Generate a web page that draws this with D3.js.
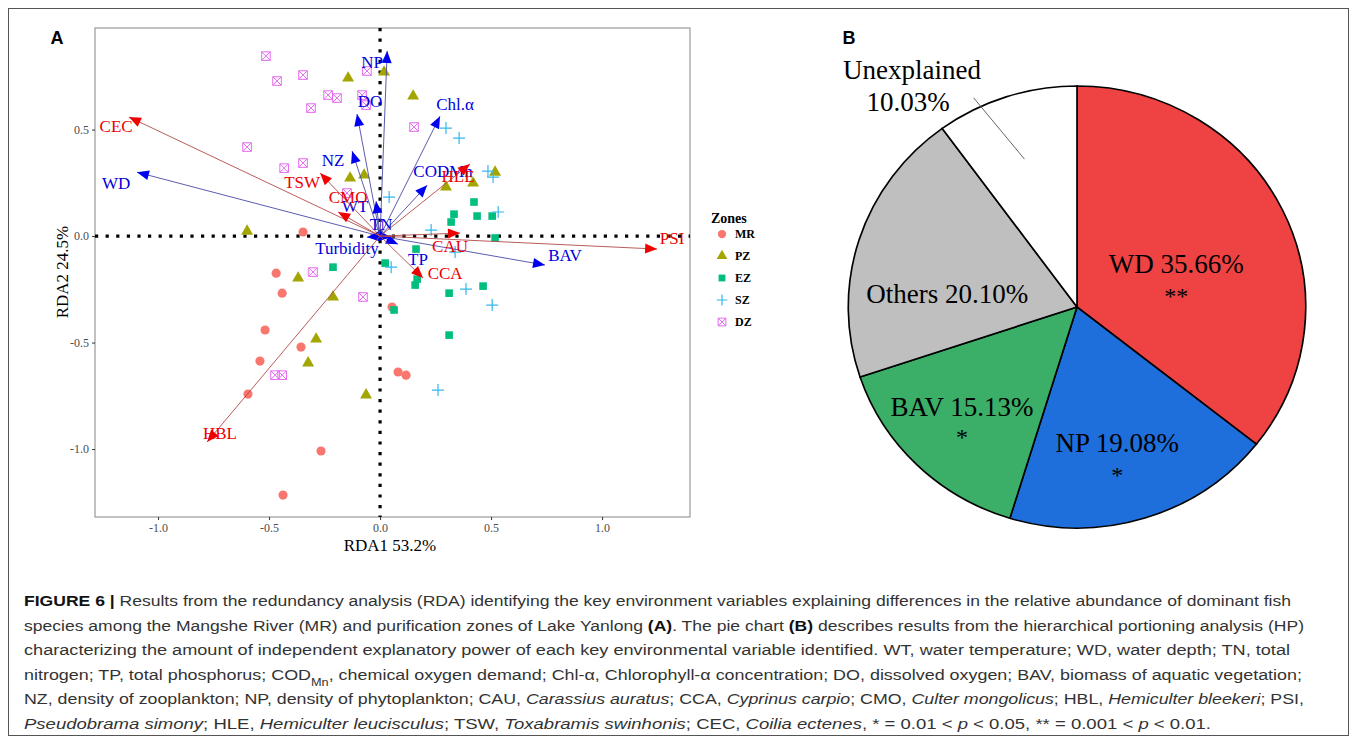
<!DOCTYPE html>
<html>
<head>
<meta charset="utf-8">
<script src="https://cdn.jsdelivr.net/npm/d3@7"></script>
<style>
  body { margin: 0; background: #fff; }
  svg text { font-family: "Liberation Serif", "Times New Roman", serif; }
  .cap text { font-family: "Liberation Sans", Arial, sans-serif; }
</style>
</head>
<body>
<svg id="fig" width="1357" height="744"></svg>
<script>
// ---- data (RDA site scores) ----
var zoneNames = ["MR", "PZ", "EZ", "SZ", "DZ"];
var siteMR = [[-0.347,0.019],[-0.468,-0.174],[-0.441,-0.268],[-0.518,-0.441],[-0.356,-0.521],[-0.541,-0.587],
              [-0.595,-0.742],[-0.266,-1.009],[-0.437,-1.216],[0.054,-0.333],[0.081,-0.638],[0.117,-0.653]];
var sitePZ = [[-0.144,0.742],[0.018,0.770],[0.149,0.657],[-0.135,0.272],[-0.072,0.286],[-0.599,0.023],[0.297,0.230],
              [0.419,0.249],[0.518,0.300],[-0.369,-0.197],[-0.212,-0.286],[-0.288,-0.484],[-0.324,-0.596],[-0.063,-0.746]];
var siteEZ = [[0.423,0.160],[0.333,0.103],[0.320,0.066],[0.437,0.094],[0.505,0.094],[0.518,-0.009],[0.023,-0.127],
              [0.162,-0.061],[0.167,-0.202],[0.158,-0.230],[0.311,-0.268],[0.464,-0.235],[0.063,-0.347],[0.311,-0.465],[-0.212,-0.146]];
var siteSZ = [[0.297,0.507],[0.356,0.460],[0.486,0.305],[0.509,0.277],[0.041,0.183],[0.532,0.113],[0.230,0.028],
              [0.338,-0.075],[0.050,-0.146],[0.387,-0.249],[0.505,-0.324],[0.261,-0.723]];
var siteDZ = [[-0.514,0.845],[-0.464,0.728],[-0.347,0.756],[-0.234,0.662],[-0.194,0.648],[-0.311,0.601],[-0.059,0.775],
              [-0.081,0.662],[-0.063,0.615],[0.153,0.512],[-0.599,0.418],[-0.432,0.319],[-0.347,0.343],[-0.149,0.202],
              [-0.302,-0.169],[-0.077,-0.286],[-0.473,-0.653],[-0.441,-0.653]];

// environmental vectors
var envNames = ["NP","DO","Chl.\u03b1","NZ","WD","WT","TN","Turbidity","TP","BAV","CODMn"];
var envX = [0.032,-0.104,0.270,-0.126,-1.095,-0.018,0.050,-0.059,0.081,0.743,0.212];
var envY = [0.869,0.573,0.563,0.399,0.300,0.164,-0.005,-0.005,-0.038,-0.136,0.239];
var envLabX = [-0.036,-0.045,0.338,-0.212,-1.189,-0.113,0.005,-0.149,0.171,0.833,0.284];
var envLabY = [0.817,0.634,0.620,0.357,0.249,0.141,0.056,-0.056,-0.108,-0.089,0.305];

// species vectors
var spNames = ["CEC","TSW","CMO","HLE","PSI","CAU","CCA","HBL"];
var spX = [-1.131,-0.270,-0.189,0.405,1.248,0.360,0.194,-0.779];
var spY = [0.559,0.296,0.113,0.338,-0.061,0.014,-0.197,-0.967];
var spLabX = [-1.189,-0.351,-0.144,0.351,1.315,0.315,0.293,-0.721];
var spLabY = [0.516,0.254,0.183,0.282,-0.009,-0.047,-0.174,-0.925];

var xTicks = [-1, -0.5, 0, 0.5, 1];
var yTicks = [-1, -0.5, 0, 0.5];

// hierarchical partitioning
var hpNames = ["WD","NP","BAV","Others","Unexplained"];
var hpValues = [35.66,19.08,15.13,20.10,10.03];
var hpStars = ["**","*","*","",""];

var svg = d3.select("svg#fig");

svg.append("rect")
  .attr("x", 8.5).attr("y", 8.5)
  .attr("width", 1340).attr("height", 727)
  .attr("fill", "none")
  .attr("stroke", "#555")
  .attr("stroke-width", 1);

svg.append("text").attr("x", 57).attr("y", 44)
  .style("font-family", "'Liberation Sans', Arial, sans-serif")
  .style("font-weight", "bold").style("font-size", "18px")
  .attr("text-anchor", "middle").text("A");
svg.append("text").attr("x", 849).attr("y", 44)
  .style("font-family", "'Liberation Sans', Arial, sans-serif")
  .style("font-weight", "bold").style("font-size", "18px")
  .attr("text-anchor", "middle").text("B");

// ================= panel A : RDA biplot =================
var x = d3.scaleLinear().domain([-1.284, 1.396]).range([95, 690]);
var y = d3.scaleLinear().domain([0.977, -1.319]).range([28, 517]);

var plotA = svg.append("g").attr("class", "rda");

plotA.append("rect")
  .attr("x", 95).attr("y", 28)
  .attr("width", 595).attr("height", 489)
  .attr("fill", "#fff")
  .attr("stroke", "#9a9a9a")
  .attr("stroke-width", 1.2);

var xAxis = d3.axisBottom(x).tickValues(xTicks).tickSize(3).tickPadding(3)
  .tickFormat(function(d){ return d.toFixed(1); });
var yAxis = d3.axisLeft(y).tickValues(yTicks).tickSize(3).tickPadding(3)
  .tickFormat(function(d){ return d.toFixed(1); });

var gx = plotA.append("g").attr("transform", "translate(0,517)").call(xAxis);
var gy = plotA.append("g").attr("transform", "translate(95,0)").call(yAxis);
[gx, gy].forEach(function(g){
  g.select(".domain").remove();
  g.selectAll(".tick line").attr("stroke", "#333");
  g.selectAll(".tick text")
    .style("font-family", "'Liberation Serif', serif")
    .style("font-size", "12px")
    .attr("fill", "#4d4d4d");
});

plotA.append("text")
  .attr("x", 390).attr("y", 551)
  .attr("text-anchor", "middle")
  .style("font-size", "17px")
  .text("RDA1 53.2%");
plotA.append("text")
  .attr("transform", "translate(68,272) rotate(-90)")
  .attr("text-anchor", "middle")
  .style("font-size", "17px")
  .text("RDA2 24.5%");

// zero reference lines (dotted)
plotA.append("line")
  .attr("x1", x.range()[0]).attr("x2", x.range()[1])
  .attr("y1", y(0)).attr("y2", y(0))
  .attr("stroke", "#000").attr("stroke-width", 3.2)
  .attr("stroke-dasharray", "3.2,7.4");
plotA.append("line")
  .attr("x1", x(0)).attr("x2", x(0))
  .attr("y1", y.range()[0]).attr("y2", y.range()[1])
  .attr("stroke", "#000").attr("stroke-width", 3.2)
  .attr("stroke-dasharray", "3.2,7.4");

// site points
var zoneColor = d3.scaleOrdinal().domain(zoneNames)
  .range(["#F8766D", "#A3A500", "#00BF7D", "#33B8EE", "#E76BF3"]);
var zoneData = [siteMR, sitePZ, siteEZ, siteSZ, siteDZ];

function drawShape(sel, zone, k) {
  var c = zoneColor(zone);
  var s = k || 1;
  if (zone === "MR") {
    sel.append("path").attr("d", d3.symbol(d3.symbolCircle, 66 * s * s)).attr("fill", c);
  } else if (zone === "PZ") {
    sel.append("path").attr("d", d3.symbol(d3.symbolTriangle, 62 * s * s)).attr("fill", c);
  } else if (zone === "EZ") {
    sel.append("path").attr("d", d3.symbol(d3.symbolSquare, 58 * s * s)).attr("fill", c);
  } else if (zone === "SZ") {
    var h = 6 * s;
    sel.append("path").attr("d", "M" + (-h) + ",0H" + h + "M0," + (-h) + "V" + h)
      .attr("stroke", c).attr("stroke-width", 1.2).attr("fill", "none");
  } else {
    var q = 4.3 * s;
    sel.append("path")
      .attr("d", "M" + (-q) + "," + (-q) + "H" + q + "V" + q + "H" + (-q) + "Z" +
                 "M" + (-q) + "," + (-q) + "L" + q + "," + q + "M" + q + "," + (-q) + "L" + (-q) + "," + q)
      .attr("stroke", c).attr("stroke-width", 1).attr("fill", "none");
  }
}

var pts = plotA.append("g").attr("class", "sites");
zoneNames.forEach(function(zone, i) {
  pts.selectAll(".pt-" + zone)
    .data(zoneData[i])
  .enter().append("g")
    .attr("class", "pt-" + zone)
    .attr("transform", function(d){ return "translate(" + x(d[0]) + "," + y(d[1]) + ")"; })
    .each(function(){ drawShape(d3.select(this), zone); });
});

// vectors
function arrowHead(x0, y0, x1, y1) {
  var a = Math.atan2(y1 - y0, x1 - x0), L = 12, W = 5;
  var bx = x1 - L * Math.cos(a), by = y1 - L * Math.sin(a);
  return "M" + x1 + "," + y1 +
         "L" + (bx + W * Math.sin(a)) + "," + (by - W * Math.cos(a)) +
         "L" + (bx - W * Math.sin(a)) + "," + (by + W * Math.cos(a)) + "Z";
}

function drawVectors(names, vx, vy, lx, ly, lineCol, headCol, textCol) {
  var g = plotA.append("g");
  var data = names.map(function(n, i){ return {name: n, x: vx[i], y: vy[i], lx: lx[i], ly: ly[i]}; });
  g.selectAll("line").data(data).enter().append("line")
    .attr("x1", x(0)).attr("y1", y(0))
    .attr("x2", function(d){ return x(d.x); })
    .attr("y2", function(d){ return y(d.y); })
    .attr("stroke", lineCol).attr("stroke-width", 0.9);
  g.selectAll("path").data(data).enter().append("path")
    .attr("d", function(d){ return arrowHead(x(0), y(0), x(d.x), y(d.y)); })
    .attr("fill", headCol);
  return {g: g, data: data, textCol: textCol};
}

var envV = drawVectors(envNames, envX, envY, envLabX, envLabY, "#4a4aa6", "#0000f0", "#0000dd");
var spV = drawVectors(spNames, spX, spY, spLabX, spLabY, "#b24a4a", "#f00000", "#ee0000");

[spV, envV].forEach(function(v){
  v.g.selectAll("text").data(v.data).enter().append("text")
    .attr("x", function(d){ return x(d.lx); })
    .attr("y", function(d){ return y(d.ly); })
    .attr("dy", "0.35em")
    .attr("text-anchor", "middle")
    .style("font-size", "17px")
    .attr("fill", v.textCol)
    .text(function(d){ return d.name; });
});

// legend
var leg = svg.append("g").attr("class", "legend");
leg.append("text").attr("x", 711).attr("y", 223)
  .style("font-weight", "bold").style("font-size", "14px").text("Zones");
var legItems = leg.selectAll(".li").data(zoneNames).enter().append("g")
  .attr("class", "li")
  .attr("transform", function(d, i){ return "translate(722," + (234 + i * 22) + ")"; });
legItems.each(function(d){ drawShape(d3.select(this), d, 0.9); });
legItems.append("text").attr("x", 13).attr("dy", "0.35em")
  .style("font-weight", "bold").style("font-size", "12px")
  .text(function(d){ return d; });

// ================= panel B : HP pie =================
var cx = 1077, cy = 307, R = 221, stretchX = 1.035;
var pieCols = ["#EF4242", "#1E6EDB", "#3BAE67", "#BFBFBF", "#FFFFFF"];
var labelPos = [[66.5, 0.49], [163.5, 0.64], [229, 0.69], [275.8, 0.59]]; // [angle deg, radius frac]
var starDy = [28, 28, 26];

var pie = d3.pie().sort(null).value(function(d){ return d; });
var arc = d3.arc().innerRadius(0).outerRadius(R);
var arcs = pie(hpValues);

var gPie = svg.append("g").attr("transform", "translate(" + cx + "," + cy + ") scale(" + stretchX + ",1)");
gPie.selectAll("path").data(arcs).enter().append("path")
  .attr("d", arc)
  .attr("fill", function(d, i){ return pieCols[i]; })
  .attr("stroke", "#000").attr("stroke-width", 1.6);

var gB = svg.append("g").attr("transform", "translate(" + cx + "," + cy + ")");

function polar(deg, r) {
  var a = deg * Math.PI / 180;
  return [r * Math.sin(a), -r * Math.cos(a)];
}

labelPos.forEach(function(p, i){
  var xy = polar(p[0], p[1] * R);
  gB.append("text").attr("x", xy[0]).attr("y", xy[1]).attr("dy", "0.35em")
    .attr("text-anchor", "middle").style("font-size", "27px")
    .text(hpNames[i] + " " + hpValues[i].toFixed(2) + "%");
  if (hpStars[i]) {
    gB.append("text").attr("x", xy[0]).attr("y", xy[1] + starDy[i]).attr("dy", "0.5em")
      .attr("text-anchor", "middle").style("font-size", "24px")
      .text(hpStars[i]);
  }
});

// unexplained, outside label + leader
var uMid = (arcs[4].startAngle + arcs[4].endAngle) / 2 * 180 / Math.PI;
var l0 = polar(uMid - 1.5, 0.71 * R), l1 = polar(333.7, 1.056 * R);
gB.append("line").attr("x1", l0[0]).attr("y1", l0[1]).attr("x2", l1[0]).attr("y2", l1[1])
  .attr("stroke", "#666").attr("stroke-width", 1);
gB.append("text").attr("x", 912 - cx).attr("y", 70 - cy).attr("dy", "0.35em")
  .attr("text-anchor", "middle").style("font-size", "27px").text(hpNames[4]);
gB.append("text").attr("x", 908 - cx).attr("y", 102 - cy).attr("dy", "0.35em")
  .attr("text-anchor", "middle").style("font-size", "27px").text(hpValues[4].toFixed(2) + "%");

// ================= caption =================
var capLines = [
  [["FIGURE 6 | ", "b"], ["Results from the redundancy analysis (RDA) identifying the key environment variables explaining differences in the relative abundance of dominant fish", ""]],
  [["species among the Mangshe River (MR) and purification zones of Lake Yanlong ", ""], ["(A)", "b"], [". The pie chart ", ""], ["(B)", "b"], [" describes results from the hierarchical portioning analysis (HP)", ""]],
  [["characterizing the amount of independent explanatory power of each key environmental variable identified. WT, water temperature; WD, water depth; TN, total", ""]],
  [["nitrogen; TP, total phosphorus; COD", ""], ["Mn", "sub"], [", chemical oxygen demand; Chl-\u03b1, Chlorophyll-\u03b1 concentration; DO, dissolved oxygen; BAV, biomass of aquatic vegetation;", ""]],
  [["NZ, density of zooplankton; NP, density of phytoplankton; CAU, ", ""], ["Carassius auratus", "i"], ["; CCA, ", ""], ["Cyprinus carpio", "i"], ["; CMO, ", ""], ["Culter mongolicus", "i"], ["; HBL, ", ""], ["Hemiculter bleekeri", "i"], ["; PSI,", ""]],
  [["Pseudobrama simony", "i"], ["; HLE, ", ""], ["Hemiculter leucisculus", "i"], ["; TSW, ", ""], ["Toxabramis swinhonis", "i"], ["; CEC, ", ""], ["Coilia ectenes", "i"], [", * = 0.01 < ", ""], ["p", "i"], [" < 0.05, ** = 0.001 < ", ""], ["p", "i"], [" < 0.01.", ""]]
];
var capEnds = [1291, 1304, 1290, 1302, 1304, 1211];

var cap = svg.append("g").attr("class", "cap");
capLines.forEach(function(line, i){
  var t = cap.append("text")
    .attr("x", 24).attr("y", 606 + i * 24.6)
    .attr("fill", "#333")
    .style("font-size", "15.5px")
    .attr("textLength", capEnds[i] - 24)
    .attr("lengthAdjust", "spacingAndGlyphs");
  line.forEach(function(part){
    var ts = t.append("tspan").text(part[0]);
    if (part[1] === "b") ts.style("font-weight", "bold").attr("fill", "#111");
    if (part[1] === "i") ts.style("font-style", "italic");
    if (part[1] === "sub") ts.style("font-size", "11px").attr("baseline-shift", "sub");
  });
});
</script>
</body>
</html>
